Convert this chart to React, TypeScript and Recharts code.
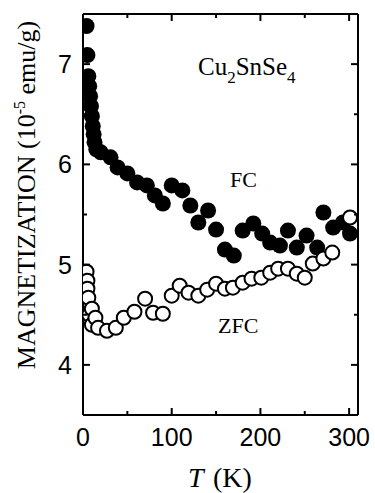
import React from "react";
import { ScatterChart, Scatter, XAxis, YAxis, Customized } from "recharts";

// field-cooled magnetization, T in K, M in 10^-5 emu/g
const fcTemp = [4, 5, 6, 7, 8, 9, 10, 11, 12, 13, 15, 20, 31, 39, 50, 61, 72, 81, 90, 100, 112, 121, 130, 141, 150, 160, 170, 180, 192, 202, 211, 222, 231, 241, 252, 264, 271, 282, 293, 301];
const fcMag = [7.38, 7.09, 6.88, 6.78, 6.68, 6.58, 6.48, 6.38, 6.3, 6.22, 6.15, 6.12, 6.07, 5.97, 5.91, 5.82, 5.79, 5.69, 5.61, 5.79, 5.74, 5.59, 5.42, 5.54, 5.35, 5.15, 5.09, 5.34, 5.41, 5.31, 5.22, 5.19, 5.34, 5.17, 5.29, 5.17, 5.52, 5.37, 5.42, 5.31];

// zero-field-cooled magnetization
const zfcTemp = [4, 5, 5, 6, 7, 10, 10, 14, 17, 27, 37, 46, 58, 70, 79, 90, 100, 109, 119, 130, 140, 150, 160, 169, 180, 190, 201, 211, 220, 231, 241, 250, 259, 271, 281, 301];
const zfcMag = [4.93, 4.84, 4.76, 4.67, 4.5, 4.56, 4.4, 4.47, 4.37, 4.34, 4.37, 4.47, 4.53, 4.66, 4.52, 4.51, 4.69, 4.79, 4.72, 4.69, 4.75, 4.81, 4.76, 4.77, 4.82, 4.86, 4.87, 4.92, 4.96, 4.96, 4.91, 4.87, 5.01, 5.06, 5.12, 5.47];

const tempTicks = [0, 50, 100, 150, 200, 250, 300];
const tempLabels = [0, 100, 200, 300];
const magTicks = [4, 4.5, 5, 5.5, 6, 6.5, 7];
const magLabels = [4, 5, 6, 7];

const fc = fcTemp.map((t, i) => ({ t, m: fcMag[i] }));
const zfc = zfcTemp.map((t, i) => ({ t, m: zfcMag[i] }));

const sans = "'Liberation Sans', Arial, sans-serif";
const serif = "'Liberation Serif', 'Times New Roman', serif";

const BottomTick = ({ x, y, payload }: any) => {
  const major = tempLabels.includes(payload.value);
  return (
    <g>
      <line x1={x} x2={x} y1={y} y2={y - (major ? 7 : 4)} stroke="#000" strokeWidth={2} />
      {major && (
        <text x={x} y={y + 31} textAnchor="middle" fontFamily={sans} fontSize={25} fill="#000">
          {payload.value}
        </text>
      )}
    </g>
  );
};

const TopTick = ({ x, y, payload }: any) => {
  const major = tempLabels.includes(payload.value);
  return <line x1={x} x2={x} y1={y} y2={y + (major ? 7 : 4)} stroke="#000" strokeWidth={2} />;
};

const LeftTick = ({ x, y, payload }: any) => {
  const major = magLabels.includes(payload.value);
  return (
    <g>
      <line x1={x} x2={x + (major ? 7 : 4)} y1={y} y2={y} stroke="#000" strokeWidth={2} />
      {major && (
        <text x={x - 11} y={y + 9} textAnchor="end" fontFamily={sans} fontSize={25} fill="#000">
          {payload.value}
        </text>
      )}
    </g>
  );
};

const RightTick = ({ x, y, payload }: any) => {
  const major = magLabels.includes(payload.value);
  return <line x1={x} x2={x - (major ? 7 : 4)} y1={y} y2={y} stroke="#000" strokeWidth={2} />;
};

const Filled = ({ cx, cy }: any) => <circle cx={cx} cy={cy} r={8} fill="#000" />;
const Open = ({ cx, cy }: any) => <circle cx={cx} cy={cy} r={7} fill="#fff" stroke="#000" strokeWidth={2} />;

const Labels = () => (
  <g fontFamily={serif} fill="#000">
    <text x={198} y={75} fontSize={25}>
      Cu<tspan fontSize={17} dy={8}>2</tspan>
      <tspan dy={-8}>SnSe</tspan>
      <tspan fontSize={17} dy={8}>4</tspan>
    </text>
    <text x={230} y={187} fontSize={22}>FC</text>
    <text x={218} y={333} fontSize={22}>ZFC</text>
    <text x={35} y={195} fontSize={26} textAnchor="middle" transform="rotate(-90 35 195)">
      MAGNETIZATION (10<tspan fontSize={16} dy={-10}>-5</tspan>
      <tspan dy={10}> emu/g)</tspan>
    </text>
    <text x={188} y={487} fontSize={28} fontStyle="italic">T</text>
    <text x={213} y={487} fontSize={28}>(K)</text>
  </g>
);

export default function App() {
  const axisLine = { stroke: "#000", strokeWidth: 2 };
  return (
    <div style={{ position: "absolute", left: 0, top: 0, background: "#fff" }}>
      <ScatterChart width={375} height={493} margin={{ top: 13, right: 16, bottom: 0, left: 0 }}>
        <XAxis xAxisId="b" dataKey="t" type="number" orientation="bottom" domain={[0, 310]} allowDataOverflow
          ticks={tempTicks} interval={0} height={78} tickSize={0} tickMargin={0} tickLine={false}
          axisLine={axisLine} tick={BottomTick} />
        <XAxis xAxisId="t" dataKey="t" type="number" orientation="top" domain={[0, 310]} allowDataOverflow
          ticks={tempTicks} interval={0} height={1} tickSize={0} tickMargin={0} tickLine={false}
          axisLine={axisLine} tick={TopTick} />
        <YAxis yAxisId="l" dataKey="m" type="number" orientation="left" domain={[3.5, 7.5]} allowDataOverflow
          ticks={magTicks} interval={0} width={83} tickSize={0} tickMargin={0} tickLine={false}
          axisLine={axisLine} tick={LeftTick} />
        <YAxis yAxisId="r" dataKey="m" type="number" orientation="right" domain={[3.5, 7.5]} allowDataOverflow
          ticks={magTicks} interval={0} width={1} tickSize={0} tickMargin={0} tickLine={false}
          axisLine={axisLine} tick={RightTick} />
        <Scatter data={fc} xAxisId="b" yAxisId="l" shape={Filled} isAnimationActive={false} />
        <Scatter data={zfc} xAxisId="b" yAxisId="l" shape={Open} isAnimationActive={false} />
        <Customized component={Labels} />
      </ScatterChart>
    </div>
  );
}
